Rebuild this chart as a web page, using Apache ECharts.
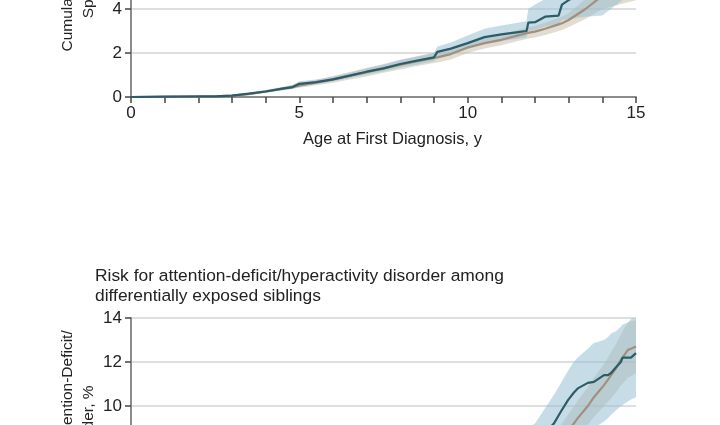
<!DOCTYPE html>
<html>
<head>
<meta charset="utf-8">
<script src="https://cdn.jsdelivr.net/npm/echarts@6/dist/echarts.min.js"></script>
<style>html,body{margin:0;padding:0;background:#fff}#c{width:720px;height:425px}</style>
</head>
<body>
<div id="c"></div>
<script>
// ---- Top panel: autism spectrum disorder ----
const topX      = [0, 1, 2, 2.5, 3, 3.5, 4, 4.5, 4.8, 5, 5.5, 6, 6.5, 7, 7.5, 8, 8.5, 9, 9.1, 9.5, 10, 10.5, 11, 11.5, 11.75, 11.8, 12, 12.3, 12.7, 12.8, 13, 13.5, 14, 14.5, 15];
const topTeal   = [0, 0.02, 0.03, 0.03, 0.06, 0.15, 0.25, 0.38, 0.45, 0.6, 0.68, 0.8, 0.97, 1.15, 1.3, 1.5, 1.65, 1.8, 2.05, 2.2, 2.45, 2.72, 2.85, 2.95, 3.0, 3.38, 3.4, 3.65, 3.7, 4.2, 4.4, 4.9, 5.4, 5.9, 6.3];
const topTealLo = [0, 0.01, 0.02, 0.02, 0.04, 0.11, 0.2, 0.32, 0.38, 0.5, 0.58, 0.7, 0.86, 1.02, 1.16, 1.34, 1.48, 1.62, 1.8, 1.95, 2.18, 2.4, 2.55, 2.65, 2.7, 3.0, 3.05, 3.2, 3.3, 3.5, 3.55, 3.65, 3.7, 4.3, 4.8];
const topTealHi = [0.01, 0.04, 0.05, 0.05, 0.09, 0.2, 0.32, 0.46, 0.55, 0.72, 0.8, 0.92, 1.1, 1.3, 1.47, 1.68, 1.84, 2.0, 2.3, 2.48, 2.8, 3.1, 3.25, 3.38, 3.45, 4.0, 4.2, 4.45, 4.5, 5.0, 5.3, 5.9, 6.5, 7.1, 7.6];
const topBrown  = [0, 0.01, 0.02, 0.03, 0.06, 0.13, 0.25, 0.38, 0.45, 0.52, 0.65, 0.8, 0.97, 1.13, 1.3, 1.47, 1.63, 1.78, 1.8, 1.95, 2.25, 2.45, 2.6, 2.8, 2.9, 2.92, 2.97, 3.1, 3.3, 3.35, 3.5, 4.0, 4.6, 5.0, 5.4];
const topBrownLo= [0, 0, 0.01, 0.02, 0.04, 0.09, 0.19, 0.30, 0.36, 0.42, 0.53, 0.65, 0.80, 0.93, 1.10, 1.25, 1.41, 1.55, 1.57, 1.71, 2.00, 2.20, 2.35, 2.55, 2.64, 2.66, 2.71, 2.82, 3.00, 3.05, 3.18, 3.55, 4.00, 4.20, 4.40];
const topBrownHi= [0, 0.02, 0.03, 0.04, 0.08, 0.17, 0.31, 0.46, 0.54, 0.62, 0.77, 0.95, 1.14, 1.33, 1.50, 1.69, 1.85, 2.01, 2.03, 2.19, 2.50, 2.70, 2.85, 3.05, 3.16, 3.18, 3.23, 3.38, 3.60, 3.65, 3.82, 4.45, 5.20, 5.80, 6.40];

// ---- Bottom panel: ADHD ----
const botX      = [0, 1, 2, 3, 4, 5, 6, 7, 8, 9, 10, 11, 11.5, 12, 12.56, 12.77, 12.98, 13.15, 13.27, 13.57, 13.75, 14.05, 14.17, 14.26, 14.4, 14.55, 14.6, 14.76, 14.85, 15];
const botTeal   = [0, 0.05, 0.15, 0.4, 0.9, 1.6, 2.4, 3.3, 4.2, 5.1, 6.0, 7.0, 7.6, 8.3, 9.2, 9.75, 10.27, 10.6, 10.8, 11.05, 11.1, 11.4, 11.4, 11.5, 11.75, 12.0, 12.2, 12.2, 12.2, 12.4];
const botTealLo = [0, 0, 0.05, 0.2, 0.5, 1.0, 1.7, 2.5, 3.3, 4.1, 4.9, 5.8, 6.3, 6.9, 7.6, 7.9, 8.2, 8.4, 8.55, 8.8, 9.0, 9.3, 9.45, 9.6, 9.8, 10.0, 10.05, 10.2, 10.3, 10.4];
const botTealHi = [0.1, 0.2, 0.4, 0.8, 1.5, 2.3, 3.2, 4.2, 5.2, 6.2, 7.2, 8.2, 8.7, 9.2, 10.5, 11.05, 11.6, 12.0, 12.2, 12.6, 12.86, 13.0, 13.14, 13.3, 13.4, 13.6, 13.7, 13.8, 13.95, 14.1];
const botBrown  = [0, 0.05, 0.15, 0.35, 0.8, 1.4, 2.1, 2.9, 3.7, 4.5, 5.3, 6.2, 6.7, 7.3, 8.1, 8.5, 8.9, 9.2, 9.45, 10.0, 10.4, 10.95, 11.2, 11.4, 11.7, 12.1, 12.2, 12.55, 12.6, 12.7];
const botBrownLo= [0, 0.02, 0.1, 0.28, 0.68, 1.22, 1.88, 2.64, 3.4, 4.15, 4.9, 5.75, 6.22, 6.8, 7.5, 7.85, 8.2, 8.45, 8.65, 9.15, 9.5, 10.0, 10.2, 10.35, 10.6, 10.95, 11.0, 11.3, 11.35, 11.5];
const botBrownHi= [0, 0.08, 0.2, 0.42, 0.92, 1.58, 2.32, 3.16, 4.0, 4.85, 5.7, 6.65, 7.18, 7.8, 8.7, 9.15, 9.6, 9.95, 10.25, 10.85, 11.3, 11.9, 12.2, 12.45, 12.8, 13.25, 13.4, 13.8, 13.85, 13.9];

const xLabelTicks = [0, 5, 10, 15];

const TEAL = '#2d5c68', BROWN = '#a28f7d';
const BLUE_BAND = 'rgba(152,192,210,0.55)', BEIGE_BAND = 'rgba(200,186,164,0.5)';
const FONT = '"Liberation Sans", Arial, sans-serif';

function bandSeries(xs, lo, hi, color, g) {
  return {
    type: 'custom', xAxisIndex: g, yAxisIndex: g, silent: true, z: 1, clip: true,
    data: xs.map((x, i) => [x, lo[i], hi[i]]),
    encode: { x: 0, y: [1, 2] },
    renderItem(params, api) {
      if (params.dataIndexInside !== 0) return;
      const n = params.dataInsideLength;
      const up = [], dn = [];
      for (let i = 0; i < n; i++) {
        up.push(api.coord([api.value(0, i), api.value(2, i)]));
        dn.push(api.coord([api.value(0, i), api.value(1, i)]));
      }
      return { type: 'polygon', shape: { points: up.concat(dn.reverse()) }, style: { fill: color } };
    }
  };
}
function line(xs, ys, color, g) {
  return { type: 'line', xAxisIndex: g, yAxisIndex: g, data: xs.map((x, i) => [x, ys[i]]), symbol: 'none',
    lineStyle: { color: color, width: 2.2 }, z: 3, silent: true };
}

function yAxis(g, name) {
  return {
    type: 'value', gridIndex: g, min: 0, max: 14, interval: 2,
    name: name, nameLocation: 'middle', nameGap: 32, nameRotate: 90, nameMoveOverlap: false,
    nameTextStyle: { fontFamily: FONT, fontSize: 15.5, color: '#222', lineHeight: 21 },
    axisLine: { show: true, lineStyle: { color: '#8c8c8c', width: 2 } },
    axisTick: { show: true, length: 6, lineStyle: { color: '#444', width: 1.5 } },
    axisLabel: { fontFamily: FONT, fontSize: 17, color: '#222', margin: 9 },
    splitLine: { show: true, lineStyle: { color: '#dedede', width: 2 } }
  };
}

const option = {
  animation: false,
  backgroundColor: '#ffffff',
  title: {
    text: 'Risk for attention-deficit/hyperactivity disorder among\ndifferentially exposed siblings',
    left: 90, top: 261,
    textStyle: { fontFamily: FONT, fontSize: 17.4, fontWeight: 'normal', color: '#222', lineHeight: 20 }
  },
  grid: [
    { left: 131, top: -211, width: 505, height: 308, containLabel: false, outerBoundsMode: 'none' },
    { left: 131, top: 318, width: 505, height: 308, containLabel: false, outerBoundsMode: 'none' }
  ],
  xAxis: [
    { type: 'value', gridIndex: 0, min: 0, max: 15, interval: 1,
      name: 'Age at First Diagnosis, y', nameLocation: 'middle', nameGap: 34, nameMoveOverlap: false,
      nameTextStyle: { fontFamily: FONT, fontSize: 16.5, color: '#222', padding: [0, 0, 0, 18] },
      axisLine: { show: true, lineStyle: { color: '#8c8c8c', width: 2 } },
      axisTick: { show: true, length: 6, lineStyle: { color: '#444', width: 1.5 } },
      axisLabel: { fontFamily: FONT, fontSize: 17, color: '#222', margin: 8,
        formatter: v => xLabelTicks.includes(v) ? String(v) : '' },
      splitLine: { show: false } },
    { type: 'value', gridIndex: 1, min: 0, max: 15, interval: 1, show: false }
  ],
  yAxis: [
    yAxis(0, 'Cumulative Incidence of Autism\nSpectrum Disorder, %'),
    yAxis(1, 'Cumulative Incidence of Attention-Deficit/\nHyperactivity Disorder, %')
  ],
  series: [
    bandSeries(topX, topBrownLo, topBrownHi, BEIGE_BAND, 0),
    bandSeries(topX, topTealLo, topTealHi, BLUE_BAND, 0),
    line(topX, topBrown, BROWN, 0),
    line(topX, topTeal, TEAL, 0),
    bandSeries(botX, botBrownLo, botBrownHi, BEIGE_BAND, 1),
    bandSeries(botX, botTealLo, botTealHi, BLUE_BAND, 1),
    line(botX, botBrown, BROWN, 1),
    line(botX, botTeal, TEAL, 1)
  ]
};
echarts.init(document.getElementById('c'), null, { renderer: 'canvas' }).setOption(option);
</script>
</body>
</html>
